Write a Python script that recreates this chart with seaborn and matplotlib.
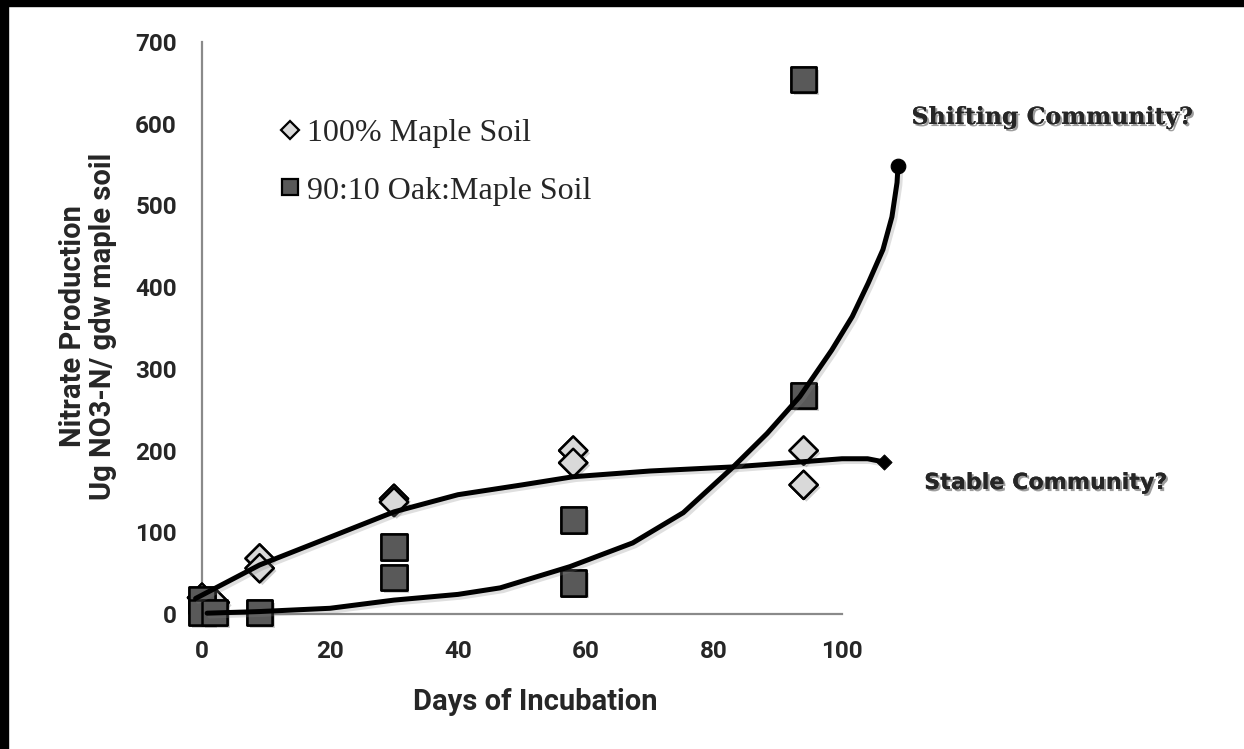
import numpy as np
import pandas as pd
import seaborn as sns
import matplotlib
matplotlib.use("Agg")
import matplotlib.pyplot as plt
from matplotlib import patheffects as pe
from matplotlib.lines import Line2D
from matplotlib.patches import Rectangle

# ---- data ----
maple_days = [0, 2, 9, 9, 30, 30, 58, 58, 94, 94]
maple_vals = [20, 14, 68, 56, 141, 137, 200, 185, 200, 158]
oak_days = [0, 0, 2, 9, 30, 30, 58, 58, 94, 94]
oak_vals = [17, 2, 2, 2, 82, 45, 115, 38, 654, 267]

stable_days = [-1, 9, 20, 30, 40, 50, 58, 70, 83, 95, 100, 104, 106.6]
stable_vals = [19, 60, 94, 125, 146, 158, 168, 175, 180, 187, 190, 190, 186]
shift_days = [0.8, 9, 20, 30, 40, 46.6, 57.5, 67.3, 75.2, 83, 88.3, 93.4,
              98.4, 101.6, 104.1, 106.4, 107.8, 108.6, 108.75]
shift_vals = [1, 3, 7, 17, 24, 32, 58, 87, 124, 180, 221, 266,
              323, 364, 405, 446, 486, 528, 548]

x_ticks = [0, 20, 40, 60, 80, 100]
y_ticks = [0, 100, 200, 300, 400, 500, 600, 700]
series_labels = ["100% Maple Soil", "90:10 Oak:Maple Soil"]

sns.set_style("white")
plt.rcParams["font.family"] = ["Roboto", "DejaVu Sans"]

W, H = 1244, 749
fig = plt.figure(figsize=(W / 100, H / 100), dpi=100)
ax = fig.add_axes([202 / W, (H - 614) / H, 640 / W, 572 / H])

patch_shadow = [pe.withSimplePatchShadow(offset=(2, -2), shadow_rgbFace="0.4", alpha=0.3), pe.Normal()]
line_shadow = [pe.SimpleLineShadow(offset=(2, -2), shadow_color="0.5", alpha=0.25), pe.Normal()]

# scatter points
sns.scatterplot(x=maple_days, y=maple_vals, marker="D", s=205, color="#d9d9d9",
                edgecolor="black", linewidth=1.8, ax=ax, clip_on=False, zorder=3)
sns.scatterplot(x=oak_days, y=oak_vals, marker="s", s=330, color="#595959",
                edgecolor="black", linewidth=1.8, ax=ax, clip_on=False, zorder=3)
for coll in ax.collections:
    coll.set_path_effects(patch_shadow)

# trend curves
sns.lineplot(x=stable_days, y=stable_vals, sort=False, estimator=None, color="black",
             lw=3.6, ax=ax, clip_on=False, zorder=4, solid_capstyle="round",
             solid_joinstyle="round", path_effects=line_shadow)
sns.lineplot(x=shift_days, y=shift_vals, sort=False, estimator=None, color="black",
             lw=3.6, ax=ax, clip_on=False, zorder=4, solid_capstyle="round",
             solid_joinstyle="round", path_effects=line_shadow)
sns.scatterplot(x=stable_days[-1:], y=stable_vals[-1:], marker="D", s=60, color="black",
                edgecolor="black", ax=ax, clip_on=False, zorder=5)
sns.scatterplot(x=shift_days[-1:], y=shift_vals[-1:], marker="o", s=110, color="black",
                edgecolor="black", ax=ax, clip_on=False, zorder=5)

ax.set_xlim(0, 100)
ax.set_ylim(0, 700)
ax.set_xticks(x_ticks)
ax.set_xticklabels([str(v) for v in x_ticks], fontweight="bold", fontsize=17.5)
ax.set_yticks(y_ticks)
ax.set_yticklabels([str(v) for v in y_ticks], fontweight="bold", fontsize=17.5)
for side in ["top", "right"]:
    ax.spines[side].set_visible(False)
for side in ["left", "bottom"]:
    ax.spines[side].set_color("#8a8a8a")
    ax.spines[side].set_linewidth(1.6)
ax.tick_params(axis="both", which="major", direction="out", length=6, width=1.6,
               color="#8a8a8a")
ax.tick_params(axis="y", pad=12)
ax.tick_params(axis="x", pad=13)

ax.set_xlabel("Days of Incubation", fontsize=21, fontweight="bold", va="center")
ax.xaxis.set_label_coords((535 - 202) / 640, (614 - 702) / 572)
ax.set_ylabel("Nitrate Production\nUg NO3-N/ gdw maple soil", fontsize=21,
              fontweight="bold", va="center", linespacing=1.05)
ax.yaxis.set_label_coords((88 - 202) / 640, (614 - 326) / 572)

# legend
handles = [
    Line2D([], [], marker="D", ls="", mfc="#d9d9d9", mec="black", ms=9, mew=1.6),
    Line2D([], [], marker="s", ls="", mfc="#595959", mec="black", ms=12, mew=1.6),
]
leg = ax.legend(handles, series_labels, loc="upper left",
                bbox_to_anchor=(280 / W, 1 - 119 / H), bbox_transform=fig.transFigure,
                frameon=False, borderpad=0, borderaxespad=0, handlelength=0.6,
                handletextpad=0.25, labelspacing=0.87,
                prop={"family": "Liberation Serif", "size": 23})

# annotations
fig.text(1052 / W, 1 - 117 / H, "Shifting Community?", ha="center", va="center",
         family="DejaVu Serif", fontweight="bold", fontsize=17,
         path_effects=[pe.withSimplePatchShadow(offset=(1.5, -1.5), alpha=0.4), pe.Normal()])
fig.text(1046 / W, 1 - 483 / H, "Stable Community?", ha="center", va="center",
         family="DejaVu Sans", fontweight="bold", fontsize=16,
         path_effects=[pe.withSimplePatchShadow(offset=(1.5, -1.5), alpha=0.4), pe.Normal()])

# black frame edges seen in the reference
fig.add_artist(Rectangle((0, 0), 8 / W, 1, transform=fig.transFigure, color="black", zorder=20))
fig.add_artist(Rectangle((0, 1 - 6 / H), 1, 6 / H, transform=fig.transFigure, color="black", zorder=20))

fig.savefig("out.png", dpi=100, facecolor="white")
